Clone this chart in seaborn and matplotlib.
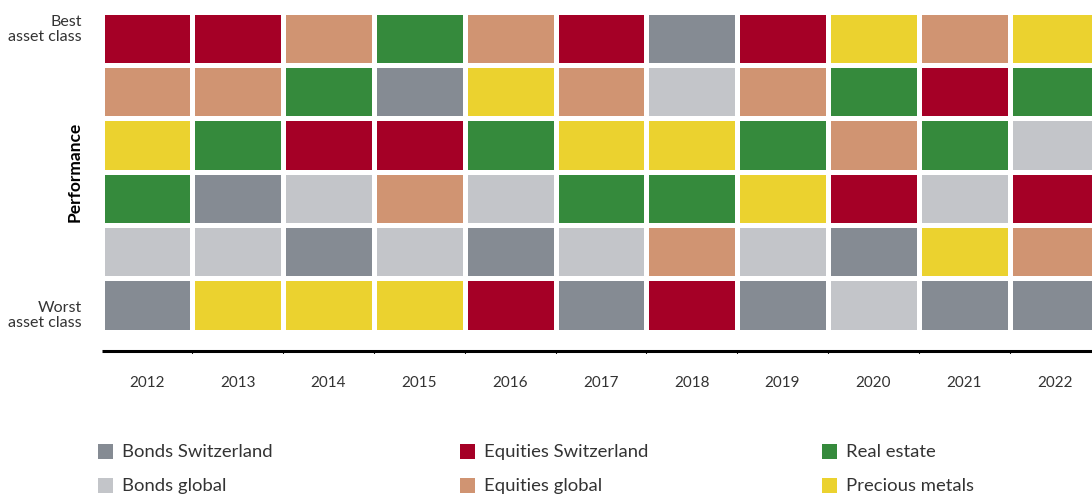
import numpy as np
import matplotlib
matplotlib.use("Agg")
import matplotlib.pyplot as plt
from matplotlib.colors import ListedColormap
from matplotlib.patches import Rectangle
import seaborn as sns

# --- Data ---
years = ["2012", "2013", "2014", "2015", "2016", "2017", "2018", "2019", "2020", "2021", "2022"]
asset_classes = ["Bonds Switzerland", "Bonds global", "Equities Switzerland",
                 "Equities global", "Real estate", "Precious metals"]
class_colors = ["#858b93", "#c3c5c9", "#a50026", "#d09472", "#358a3c", "#ebd22f"]

# ranking per year, best first
ranking = {
    "2012": ["Equities Switzerland", "Equities global", "Precious metals", "Real estate", "Bonds global", "Bonds Switzerland"],
    "2013": ["Equities Switzerland", "Equities global", "Real estate", "Bonds Switzerland", "Bonds global", "Precious metals"],
    "2014": ["Equities global", "Real estate", "Equities Switzerland", "Bonds global", "Bonds Switzerland", "Precious metals"],
    "2015": ["Real estate", "Bonds Switzerland", "Equities Switzerland", "Equities global", "Bonds global", "Precious metals"],
    "2016": ["Equities global", "Precious metals", "Real estate", "Bonds global", "Bonds Switzerland", "Equities Switzerland"],
    "2017": ["Equities Switzerland", "Equities global", "Precious metals", "Real estate", "Bonds global", "Bonds Switzerland"],
    "2018": ["Bonds Switzerland", "Bonds global", "Precious metals", "Real estate", "Equities global", "Equities Switzerland"],
    "2019": ["Equities Switzerland", "Equities global", "Real estate", "Precious metals", "Bonds global", "Bonds Switzerland"],
    "2020": ["Precious metals", "Real estate", "Equities global", "Equities Switzerland", "Bonds Switzerland", "Bonds global"],
    "2021": ["Equities global", "Equities Switzerland", "Real estate", "Bonds global", "Precious metals", "Bonds Switzerland"],
    "2022": ["Precious metals", "Real estate", "Bonds global", "Equities Switzerland", "Equities global", "Bonds Switzerland"],
}

grid = np.array([[asset_classes.index(ranking[y][r]) for y in years] for r in range(6)])

sns.set_theme(style="white")
plt.rcParams['font.family'] = ['Lato', 'DejaVu Sans']
text_color = "#333333"

W, H = 1092, 495
fig = plt.figure(figsize=(W / 100, H / 100), dpi=100)
ax = fig.add_axes([101.5 / W, 1 - (11.5 + 320.4) / H, 11 * 90.8 / W, 320.4 / H])

sns.heatmap(grid, ax=ax, cmap=ListedColormap(class_colors), vmin=-0.5, vmax=5.5,
            cbar=False, linewidths=3.6, linecolor="white", square=False)

# baseline under the grid
ax.plot([0, 11], [6.36, 6.36], color="black", lw=2.2, clip_on=False, solid_capstyle="butt")
for i in range(1, 11):
    ax.plot([i, i], [6.36, 6.40], color="black", lw=0.8, clip_on=False)

ax.set_xticks(np.arange(11) + 0.5)
ax.set_xticklabels(years, fontsize=11, color=text_color)
ax.set_yticks([0.06, 5.97])
ylabels = ax.set_yticklabels(["Best\nasset class", "Worst\nasset class"], fontsize=11.5,
                             color=text_color, rotation=0, linespacing=1.15)
ylabels[0].set_va("top")
ylabels[1].set_va("bottom")
ax.tick_params(axis="x", length=0, pad=32)
ax.tick_params(axis="y", length=0, pad=14)
ax.set_xlabel("")
ax.set_ylabel("")

fig.text(75 / W, 1 - 172 / H, "Performance", rotation=90, ha="center", va="center",
         fontsize=12.5, fontweight="bold", color="black")

# legend, three columns
col_x = [98, 460, 822]
row_y = [451, 485]
for k, (name, col) in enumerate(zip(asset_classes, class_colors)):
    cx = col_x[k // 2]
    cy = row_y[k % 2]
    fig.add_artist(Rectangle((cx / W, 1 - (cy + 7.5) / H), 15 / W, 15 / H,
                             transform=fig.transFigure, color=col, lw=0))
    fig.text((cx + 24) / W, 1 - (cy + 1) / H, name, ha="left", va="center",
             fontsize=13.3, color=text_color)

fig.savefig("out.png", dpi=100)
